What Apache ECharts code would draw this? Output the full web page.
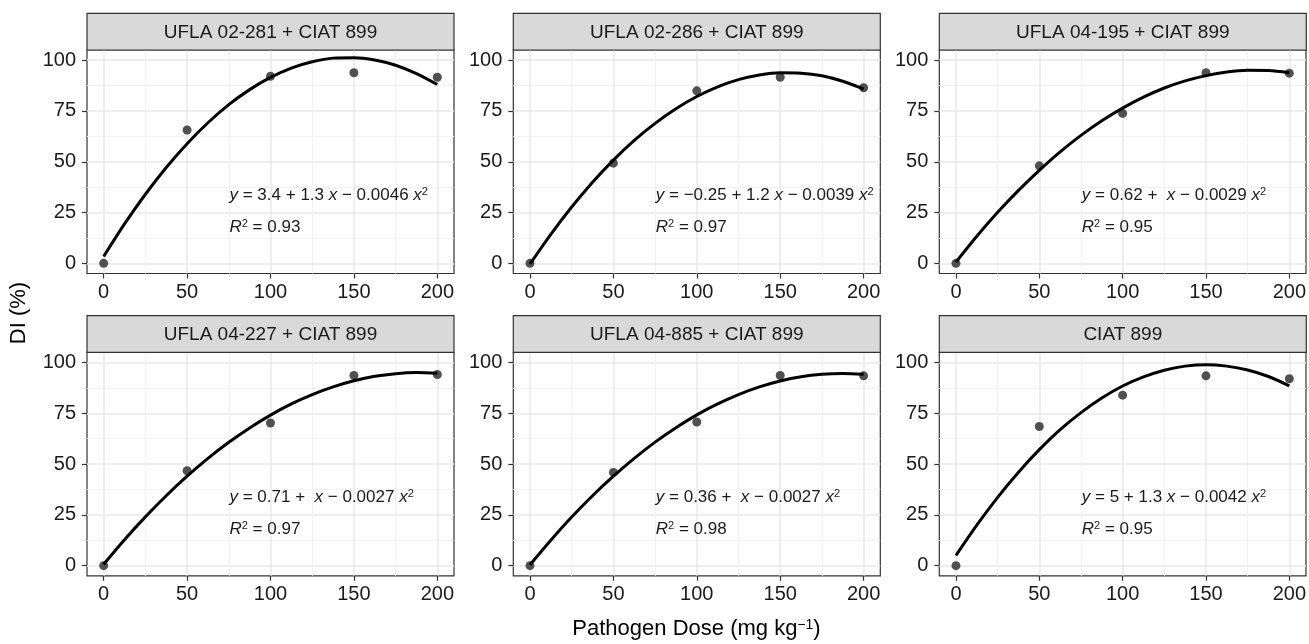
<!DOCTYPE html>
<html>
<head>
<meta charset="utf-8">
<title>DI vs Pathogen Dose</title>
<script src="https://cdn.jsdelivr.net/npm/echarts@6/dist/echarts.min.js"></script>
<style>
  html, body { margin: 0; padding: 0; background: #fff; }
  #chart { width: 1309px; height: 644px; }
</style>
</head>
<body>
<div id="chart"></div>
<script>
// doses (mg kg-1) where DI was measured
var doses = [0, 50, 100, 150, 200];
var curveDoses = [0, 12.5, 25, 37.5, 50, 62.5, 75, 87.5, 100, 112.5, 125, 137.5, 150, 162.5, 175, 187.5, 200];

var panelNames = [
  'UFLA 02-281 + CIAT 899', 'UFLA 02-286 + CIAT 899', 'UFLA 04-195 + CIAT 899',
  'UFLA 04-227 + CIAT 899', 'UFLA 04-885 + CIAT 899', 'CIAT 899'
];

// observed DI (%)
var di02281 = [0, 65.6, 92.1, 93.8, 91.6];
var di02286 = [0, 49.3, 84.9, 91.6, 86.4];
var di04195 = [0, 48.0, 73.8, 93.8, 93.6];
var di04227 = [0, 46.7, 70.2, 93.6, 94.1];
var di04885 = [0, 45.9, 70.7, 93.6, 93.4];
var diCiat = [0, 68.5, 83.9, 93.4, 92.0];

// quadratic fit curve, read at curveDoses
var fit02281 = [3.4, 19.4, 34.0, 47.2, 58.9, 69.2, 78.1, 85.5, 91.5, 96.1, 99.2, 101.0, 101.2, 100.1, 97.5, 93.4, 88.0];
var fit02286 = [-0.3, 14.3, 27.7, 39.9, 50.8, 60.5, 68.9, 76.1, 82.1, 86.9, 90.4, 92.7, 93.8, 93.6, 92.3, 89.6, 85.8];
var fit04195 = [0.6, 13.3, 25.1, 35.9, 45.8, 54.9, 63.0, 70.2, 76.4, 81.8, 86.3, 89.8, 92.4, 94.2, 95.0, 94.9, 93.8];
var fit04227 = [0.7, 12.8, 24.0, 34.4, 44.0, 52.8, 60.7, 67.8, 74.1, 79.6, 84.2, 88.0, 91.0, 93.2, 94.5, 95.0, 94.7];
var fit04885 = [0.4, 12.5, 23.9, 34.4, 44.0, 52.8, 60.8, 67.9, 74.2, 79.6, 84.2, 88.0, 90.9, 93.0, 94.2, 94.6, 94.2];
var fitCiat = [5.0, 19.9, 33.6, 46.0, 57.1, 66.9, 75.3, 82.5, 88.4, 92.9, 96.2, 98.2, 98.9, 98.2, 96.3, 93.1, 88.5];

// equation coefficients as printed (a, b, c) and R2
var eqA = ['3.4', '\u22120.25', '0.62', '0.71', '0.36', '5'];
var eqB = ['1.3', '1.2', '', '', '', '1.3'];
var eqC = ['0.0046', '0.0039', '0.0029', '0.0027', '0.0027', '0.0042'];
var r2 = ['0.93', '0.97', '0.95', '0.97', '0.98', '0.95'];

var xTicks = [0, 50, 100, 150, 200];
var xMinor = [25, 75, 125, 175];
var yTicks = [0, 25, 50, 75, 100];
var yMinor = [12.5, 37.5, 62.5, 87.5];

var observed = [di02281, di02286, di04195, di04227, di04885, diCiat];
var fitted = [fit02281, fit02286, fit04195, fit04227, fit04885, fitCiat];

// layout
var FONT = "'Liberation Sans', Arial, sans-serif";
var colLeft = [87, 513.3, 939.3];
var rowTop = [50, 352.3];
var panelW = 367, panelH = 223.5, stripH = 36.7;

function makeRich(size, supSize) {
  return {
    i: { fontStyle: 'italic', fontSize: size, fontFamily: FONT },
    s: { fontSize: supSize, fontFamily: FONT, verticalAlign: 'top' }
  };
}

function buildOption() {
  var grids = [], xAxes = [], yAxes = [], series = [], graphics = [];

  for (var i = 0; i < 6; i++) {
    var px = colLeft[i % 3], py = rowTop[Math.floor(i / 3)];
    grids.push({
      left: px, top: py, width: panelW, height: panelH,
      show: true, backgroundColor: '#fff', borderColor: '#333', borderWidth: 1.2
    });

    // main axes: ticks, labels, major grid; second pair only draws the minor grid
    xAxes.push({
      type: 'value', gridIndex: i, min: -10, max: 210, position: 'bottom',
      axisLine: { show: false, onZero: false },
      axisTick: { show: true, length: 5, customValues: xTicks, lineStyle: { color: '#333', width: 1.2 } },
      axisLabel: { customValues: xTicks, fontSize: 20, color: '#1a1a1a', fontFamily: FONT, margin: 9 },
      splitLine: { show: true, lineStyle: { color: '#e8e8e8', width: 1.5 } }
    }, {
      type: 'value', gridIndex: i, min: -10, max: 210, position: 'top',
      axisLine: { show: false, onZero: false },
      axisTick: { show: false, customValues: xMinor },
      axisLabel: { show: false },
      splitLine: { show: true, lineStyle: { color: '#f2f2f2', width: 1 } }
    });
    yAxes.push({
      type: 'value', gridIndex: i, min: -5, max: 105, position: 'left',
      axisLine: { show: false, onZero: false },
      axisTick: { show: true, length: 5, customValues: yTicks, lineStyle: { color: '#333', width: 1.2 } },
      axisLabel: { customValues: yTicks, fontSize: 20, color: '#1a1a1a', fontFamily: FONT, margin: 11 },
      splitLine: { show: true, lineStyle: { color: '#e8e8e8', width: 1.5 } }
    }, {
      type: 'value', gridIndex: i, min: -5, max: 105, position: 'right',
      axisLine: { show: false, onZero: false },
      axisTick: { show: false, customValues: yMinor },
      axisLabel: { show: false },
      splitLine: { show: true, lineStyle: { color: '#f2f2f2', width: 1 } }
    });

    series.push({
      type: 'scatter', xAxisIndex: 2 * i, yAxisIndex: 2 * i,
      symbolSize: 9, itemStyle: { color: '#333', opacity: 0.85 },
      data: doses.map(function (d, k) { return [d, observed[i][k]]; }),
      z: 2
    });
    series.push({
      type: 'line', xAxisIndex: 2 * i, yAxisIndex: 2 * i,
      smooth: 0.3, symbol: 'none', lineStyle: { color: '#000', width: 3 },
      data: curveDoses.map(function (d, k) { return [d, fitted[i][k]]; }),
      z: 3
    });

    // facet strip
    graphics.push({
      type: 'rect', silent: true, z: 10,
      shape: { x: px, y: py - stripH, width: panelW, height: stripH },
      style: { fill: '#d9d9d9', stroke: '#333', lineWidth: 1.2 }
    });
    graphics.push({
      type: 'text', silent: true, z: 11,
      x: px + panelW / 2, y: py - stripH / 2 + 1,
      style: { text: panelNames[i], font: '19px ' + FONT, fill: '#1a1a1a', align: 'center', verticalAlign: 'middle' }
    });

    // equation and R2
    var eq = '{i|y} = ' + eqA[i] + ' + ' + (eqB[i] ? eqB[i] + ' ' : ' ') + '{i|x} \u2212 ' + eqC[i] + ' {i|x}{s|2}';
    graphics.push({
      type: 'text', silent: true, z: 12,
      x: px + 142.5, y: py + 145,
      style: { text: eq, font: '17px ' + FONT, fill: '#1a1a1a', align: 'left', verticalAlign: 'middle', rich: makeRich(17, 11) }
    });
    graphics.push({
      type: 'text', silent: true, z: 12,
      x: px + 142.5, y: py + 177,
      style: { text: '{i|R}{s|2} = ' + r2[i], font: '17px ' + FONT, fill: '#1a1a1a', align: 'left', verticalAlign: 'middle', rich: makeRich(17, 11) }
    });
  }

  // axis titles
  graphics.push({
    type: 'text', silent: true,
    x: 696.5, y: 629,
    style: {
      text: 'Pathogen Dose (mg kg{s|\u22121})', font: '22px ' + FONT, fill: '#000',
      align: 'center', verticalAlign: 'middle',
      rich: { s: { fontSize: 14, fontFamily: FONT, verticalAlign: 'top' } }
    }
  });
  graphics.push({
    type: 'text', silent: true,
    x: 19, y: 313, rotation: Math.PI / 2,
    style: { text: 'DI (%)', font: '22px ' + FONT, fill: '#000', align: 'center', verticalAlign: 'middle' }
  });

  return {
    animation: false,
    backgroundColor: '#fff',
    grid: grids,
    xAxis: xAxes,
    yAxis: yAxes,
    series: series,
    graphic: graphics
  };
}

var chart = echarts.init(document.getElementById('chart'));
chart.setOption(buildOption());
</script>
</body>
</html>
